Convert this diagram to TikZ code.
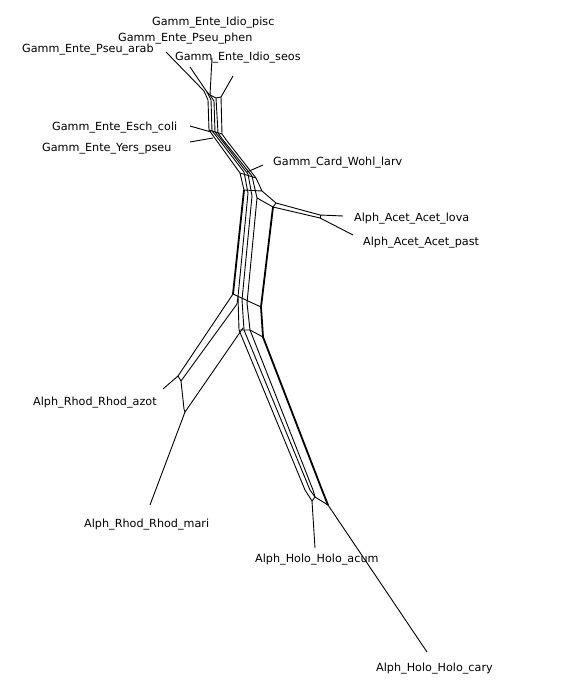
\documentclass[tikz,border=0pt]{standalone}
\usepackage{fontspec}
\setmainfont{DejaVu Sans}
\begin{document}
\begin{tikzpicture}[x=1pt,y=-1pt,
  lbl/.style={anchor=west,inner sep=0pt,text height=8pt,text depth=2pt,font=\fontsize{11.2}{13}\selectfont},
  edge/.style={line width=0.9pt,line join=round},
  heavy/.style={line width=1.8pt,line join=round}]
\useasboundingbox (0,0) rectangle (577,700);
% labels
\node[lbl] (pisc) at (152,23) {Gamm\_Ente\_Idio\_pisc};
\node[lbl] (phen) at (118,39) {Gamm\_Ente\_Pseu\_phen};
\node[lbl] (arab) at (22,50) {Gamm\_Ente\_Pseu\_arab};
\node[lbl] (seos) at (175,58) {Gamm\_Ente\_Idio\_seos};
\node[lbl] (esch) at (52,128) {Gamm\_Ente\_Esch\_coli};
\node[lbl] (yers) at (42,149) {Gamm\_Ente\_Yers\_pseu};
\node[lbl] (card) at (273,163) {Gamm\_Card\_Wohl\_larv};
\node[lbl] (lova) at (354,219) {Alph\_Acet\_Acet\_lova};
\node[lbl] (past) at (363,243) {Alph\_Acet\_Acet\_past};
\node[lbl] (azot) at (33,402) {Alph\_Rhod\_Rhod\_azot};
\node[lbl] (mari) at (84,524) {Alph\_Rhod\_Rhod\_mari};
\node[lbl] (acum) at (255,559) {Alph\_Holo\_Holo\_acum};
\node[lbl] (cary) at (376,668) {Alph\_Holo\_Holo\_cary};
% leaf tips and attachment vertices
\coordinate (tpisc) at (212,58);   \coordinate (vpisc) at (210,95);
\coordinate (tphen) at (190,67);   \coordinate (vphen) at (207,92);
\coordinate (tarab) at (166,52);   \coordinate (varab) at (204,91);
\coordinate (tseos) at (233,76);   \coordinate (vseos) at (221,97);
\coordinate (tesch) at (190,126);  \coordinate (vesch) at (211,132);
\coordinate (tyers) at (190,142);  \coordinate (vyers) at (213,138);
\coordinate (tcard) at (263,165);  \coordinate (vcard) at (247,172);
\coordinate (tlova) at (343,216);  \coordinate (vlova) at (320,215);
\coordinate (tpast) at (353,235);  \coordinate (vpast) at (320,218);
\coordinate (tazot) at (163,389);  \coordinate (vazot) at (178,376);
\coordinate (tmari) at (150,505);  \coordinate (vmari) at (185,412);
\coordinate (tacum) at (315,548);  \coordinate (vacum) at (312,501);
\coordinate (tcary) at (427,652);  \coordinate (vcary) at (328,505);
% leaf edges
\foreach \n in {pisc,phen,arab,seos,esch,yers,card,lova,past,azot,mari,acum,cary}
  \draw[edge] (t\n) -- (v\n);
% network strands
\draw[edge] (varab) -- (208,100) -- (209,130) -- (214,137) -- (240,173) -- (244,190);
\draw[heavy] (244,190) -- (233,294);
\draw[edge] (vphen) -- (211,100) -- (212,131) -- (217,137) -- (244,172) -- (248,193) -- (238,297);
\draw[edge] (vpisc) -- (214,101) -- (215,132) -- (220,138) -- (248,174) -- (252,196) -- (242,300);
\draw[edge] (216,98) -- (218,133) -- (223,140) -- (252,176) -- (257,198) -- (247,303);
\draw[edge] (vseos) -- (222,134) -- (227,141) -- (256,178) -- (262,191) -- (276,203) -- (vlova);
\draw[edge] (vphen) -- (vpisc) -- (216,98) -- (vseos);
\draw[edge] (209,130) -- (222,134);
\draw[edge] (240,173) -- (256,178);
\draw[edge] (244,190) -- (262,191);
\draw[edge] (257,198) -- (273,207) -- (vpast);
\draw[edge] (276,203) -- (273,207);
\draw[edge] (vlova) -- (vpast);
\draw[heavy] (273,207) -- (261,307) -- (263,337) -- (322,490) -- (vcary);
\draw[edge] (233,294) -- (261,307);
% Rhod branch
\draw[edge] (233,294) -- (vazot);
\draw[edge] (238,297) -- (237,304) -- (181,381);
\draw[edge] (vazot) -- (181,381) -- (184,409) -- (vmari);
\draw[edge] (243,328) -- (vmari);
% Holo branch
\draw[edge] (238,297) -- (239,330) -- (305,490) -- (vacum);
\draw[edge] (242,300) -- (244,330) -- (310,490) -- (315,497);
\draw[edge] (247,303) -- (250,330) -- (313,490) -- (315,497);
\draw[edge] (239,330) -- (250,330) -- (263,337);
\draw[edge] (vacum) -- (315,497) -- (vcary);
\end{tikzpicture}
\end{document}
